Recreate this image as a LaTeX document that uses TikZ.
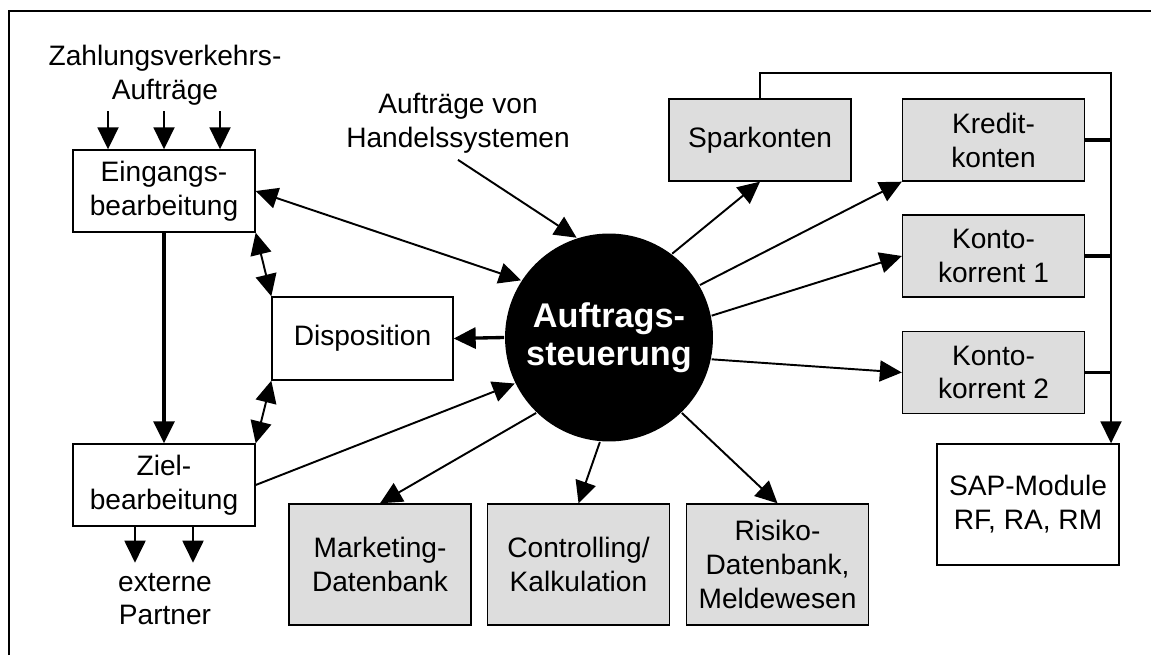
\documentclass[tikz,border=0pt]{standalone}
\usepackage{fontspec}
\setmainfont{Liberation Sans}
\usetikzlibrary{arrows.meta,calc}
\definecolor{box fill}{RGB}{221,221,221}
\definecolor{core color}{RGB}{0,0,0}

\begin{document}
\begin{tikzpicture}[
	x=0.02cm, y=-0.02cm,
	font=\fontsize{16}{19.3}\selectfont,
	line width=1.1pt,
	>={Triangle[length=0.44cm, width=0.42cm]},
	box/.style={draw, line width=0.8pt, align=center, inner sep=0pt,
		minimum width=3.64cm, minimum height=1.64cm},
	grey box/.style={box, fill=box fill},
	tall/.style={minimum height=2.42cm},
	heavy/.style={line width=1.9pt}]

\useasboundingbox (0,0) rectangle (1151,655);

% Frame
\draw [line width=1.2pt] (9,655) -- (9,11) -- (1151,11);

% Left column
\node (eingang) at (164,191) [box] {Eingangs-\\bearbeitung};
\node (ziel) at (164,485) [box] {Ziel-\\bearbeitung};
\node (dispo) at (362.5,338.5) [box, minimum width=3.62cm, minimum height=1.66cm] {Disposition};
\node (zahlung) at (165,75) [align=center] {Zahlungsverkehrs-\\Aufträge};
\node (extern) at (165,599) [align=center] {externe\\Partner};

\foreach \dx in {-56,0,56} {
    \draw [->] ($(eingang.north)+(\dx,-38)$) -- ($(eingang.north)+(\dx,0)$);
}
\foreach \dx in {-29,29} {
    \draw [->] ($(ziel.south)+(\dx,0)$) -- ($(ziel.south)+(\dx,36)$);
}
\draw [->, heavy] (eingang) -- (ziel);
\draw [<->] (eingang.south east) -- (dispo.north west);
\draw [<->] (dispo.south west) -- (ziel.north east);

% Centre
\node (auftrag) at (609,337.5) [circle, fill=core color, text=white, inner sep=0pt,
    minimum size=4.16cm, align=center,
    font=\fontsize{19.5}{21.8}\selectfont\bfseries] {Auftrags-\\steuerung};
\node (handel) at (458,123) [align=center] {Aufträge von\\Handelssystemen};

\draw [<->] (eingang.east) -- (auftrag.147);
\draw [->] (ziel.east) -- (auftrag.206);
\draw [->, heavy] (auftrag.west) -- (dispo.east);
\draw [->] (handel.south) -- (auftrag.108);

% Accounts
\node (spar) at (760,140) [grey box] {Sparkonten};
\node (kredit) at (993.5,140) [grey box] {Kredit-\\konten};
\node (konto1) at (993.5,256) [grey box] {Konto-\\korrent 1};
\node (konto2) at (993.5,372.5) [grey box] {Konto-\\korrent 2};
\node (sap) at (1028,504.5) [box, tall] {SAP-Module\\RF, RA, RM};

\draw [->] (auftrag.53) -- (spar.south);
\draw [->] (auftrag.30) -- (kredit.south west);
\draw [->] (auftrag.12) -- (konto1.west);
\draw [->] (auftrag.-12) -- (konto2.west);

% Bus to SAP
\coordinate (bus) at (1111,73);
\draw [->] (spar.north) |- (bus) -- (bus |- sap.north);
\foreach \n in {kredit,konto1,konto2} {
    \draw [heavy] (\n.east) -- (bus |- \n.east);
}

% Databases
\node (marketing) at (380,564.5) [grey box, tall] {Marketing-\\Datenbank};
\node (control) at (578.5,564.5) [grey box, tall] {Controlling/\\Kalkulation};
\node (risiko) at (777.5,564.5) [grey box, tall] {Risiko-\\Datenbank,\\Meldewesen};

\draw [->] (auftrag.226) -- (marketing.north);
\draw [->] (auftrag.265) -- (control.north);
\draw [->] (auftrag.314) -- (risiko.north);

\end{tikzpicture}
\end{document}
